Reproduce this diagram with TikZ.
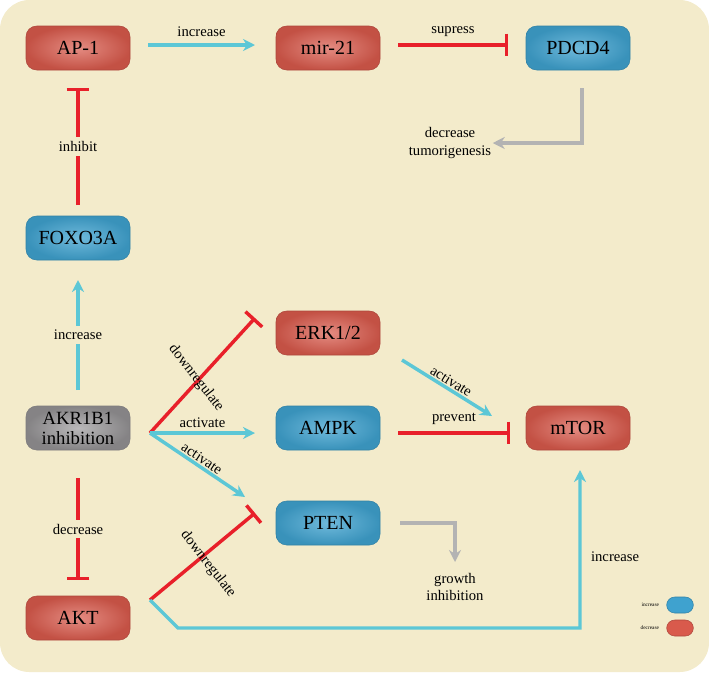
\documentclass[tikz,border=0pt]{standalone}
\usepackage{fontspec}
\setmainfont{Liberation Serif}
\usetikzlibrary{arrows.meta}
\definecolor{bg}{HTML}{F3EBCB}
\definecolor{rednode}{HTML}{D95A4C}
\definecolor{bluenode}{HTML}{3FA2CF}
\definecolor{graynode}{HTML}{9C9A9C}
\definecolor{cyanline}{HTML}{5CC7D6}
\definecolor{redline}{HTML}{E8202A}
\definecolor{grayline}{HTML}{B3B3B3}
\begin{document}
\begin{tikzpicture}[x=0.75pt,y=-0.75pt,
  box/.style={rounded corners=8pt,minimum width=78pt,minimum height=33pt,font=\fontsize{15}{16}\selectfont,align=center,inner sep=1pt},
  red/.style={box,inner color=rednode!70!white,outer color=rednode!90!black,draw=rednode!80!black},
  blue/.style={box,inner color=bluenode!75!white,outer color=bluenode!90!black,draw=bluenode!80!black},
  grey/.style={box,inner color=graynode!70!white,outer color=graynode!85!black,draw=graynode!80!black},
  inc/.style={draw=cyanline,line width=2.6pt,-{Stealth[length=9pt,width=9pt]}},
  inh/.style={draw=redline,line width=2.6pt,-{Bar[width=17pt]}},
  gar/.style={draw=grayline,line width=2.6pt,-{Stealth[length=9pt,width=9pt]}},
  lbl/.style={font=\fontsize{11}{13}\selectfont,inner sep=1pt},
  lbf/.style={lbl,fill=bg,inner sep=3pt}]
\fill[bg,rounded corners=22pt] (0,0) rectangle (709,672);
\node[red] (ap1) at (78,48) {AP-1};
\node[red] (mir) at (328,48) {mir-21};
\node[blue] (pdcd) at (578,48) {PDCD4};
\node[blue] (foxo) at (78,238) {FOXO3A};
\node[grey,font=\fontsize{14}{15}\selectfont] (akr) at (78,428) {AKR1B1\\inhibition};
\node[red] (akt) at (78,618) {AKT};
\node[red] (erk) at (328,333) {ERK1/2};
\node[blue] (ampk) at (328,428) {AMPK};
\node[blue] (pten) at (328,523) {PTEN};
\node[red] (mtor) at (578,428) {mTOR};
\node[lbl,align=center] (tum) at (450,143) {decrease\\tumorigenesis};
\node[lbl,align=center] (grow) at (455,587) {growth\\inhibition};
\coordinate (hub) at (150,433);
\coordinate (aktc) at (150,600);
% top row
\draw[inc] (148,45) -- node[lbl,above=4pt]{increase} (255,45);
\draw[inh] (398,45) -- node[lbl,above=4pt]{supress} (508,45);
\draw[gar] (582,88) |- (tum.east);
% left column
\draw[inh] (78,205) -- node[lbf]{inhibit} (78,88);
\draw[inc] (78,390) -- node[lbf]{increase} (78,280);
\draw[inh] (78,478) -- node[lbf]{decrease} (78,580);
% from hub
\draw[inh] (hub) -- (255,318);
\node[lbl,rotate=-52] at (196,378) {downregulate};
\draw[inc] (hub) -- node[lbl,above=2pt,pos=0.5]{activate} (255,433);
\draw[inc] (hub) -- node[lbl,sloped,above,pos=0.5]{activate} (245,497);
\draw[inh] (aktc) -- (255,513);
\node[lbl,rotate=-52] at (208,564) {downregulate};
\draw[inc] (aktc) -- (178,628) -- (580,628) -- node[lbl,right=6pt,pos=0.45]{increase} (580,470);
% to mTOR
\draw[inc] (402,360) -- node[lbl,sloped,above,pos=0.5]{activate} (492,416);
\draw[inh] (398,433) -- node[lbl,above=4pt]{prevent} (510,433);
\draw[gar] (400,523) -| (455,562);
% legend
\node[draw=bluenode!80!black,fill=bluenode,rounded corners=6pt,minimum width=20pt,minimum height=12pt] (lb) at (680,605) {};
\node[draw=rednode!80!black,fill=rednode,rounded corners=6pt,minimum width=20pt,minimum height=12pt] (lr) at (680,628) {};
\node[font=\fontsize{4}{5}\selectfont,left=2pt] at (lb.west) {increase};
\node[font=\fontsize{4}{5}\selectfont,left=2pt] at (lr.west) {decrease};
\end{tikzpicture}
\end{document}
